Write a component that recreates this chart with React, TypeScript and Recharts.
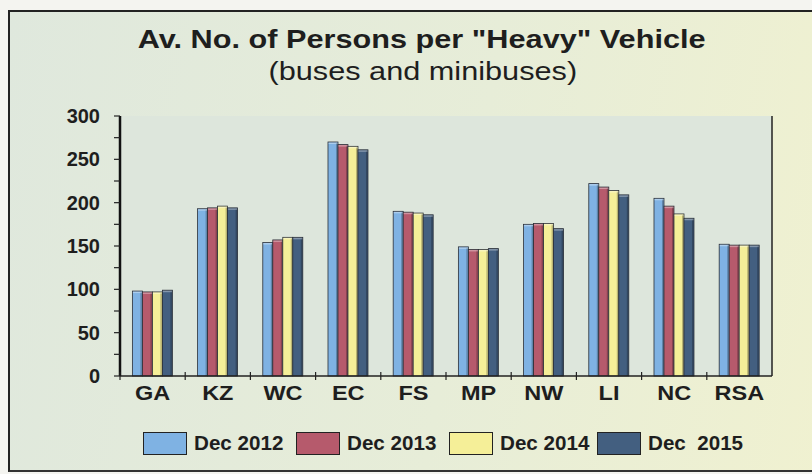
import React from "react";
import { BarChart, Bar, XAxis, YAxis, CartesianGrid } from "recharts";

// ─── Data ─────────────────────────────────────────────────────────────────────

const provinces = ["GA", "KZ", "WC", "EC", "FS", "MP", "NW", "LI", "NC", "RSA"];
const dec2012 = [98, 193, 154, 270, 190, 149, 175, 222, 205, 152];
const dec2013 = [97, 194, 157, 267, 189, 146, 176, 218, 196, 151];
const dec2014 = [97, 196, 160, 265, 188, 146, 176, 214, 187, 151];
const dec2015 = [99, 194, 160, 261, 186, 147, 170, 209, 182, 151];
const yTicks = [0, 25, 50, 75, 100, 125, 150, 175, 200, 225, 250, 275, 300];
const gridValues = [50, 100, 150, 200, 250, 300];

const seriesKeys = ["Dec 2012", "Dec 2013", "Dec 2014", "Dec  2015"];
const seriesColors = ["#7fb2e3", "#b65a6c", "#f5ef98", "#435f80"];
const legendLefts = [143, 296, 449, 597];

const chartData = provinces.map((p, i) => ({
  name: p,
  s0: dec2012[i],
  s1: dec2013[i],
  s2: dec2014[i],
  s3: dec2015[i],
}));

const FONT = '"Liberation Sans", Arial, sans-serif';

// ─── Bar shape with a little bevel ────────────────────────────────────────────

function BevelBar(props: any) {
  const { x, y, width, height, fill } = props;
  if (!height || height <= 0) return null;
  return (
    <g>
      <rect x={x} y={y} width={width} height={height} fill={fill} stroke="#2a2f38" strokeWidth={0.8} />
      <rect x={x + width - 2} y={y + 1} width={1.5} height={height - 1} fill="#000" opacity={0.25} />
      <rect x={x + 0.5} y={y + 0.5} width={width - 1} height={1.5} fill="#fff" opacity={0.35} />
    </g>
  );
}

// ─── X tick with boundary marks ───────────────────────────────────────────────

function CategoryTick(props: any) {
  const { x, y, payload } = props;
  const half = payload?.offset ?? 32.6;
  return (
    <g>
      <line x1={x - half} x2={x - half} y1={y - 4} y2={y + 4} stroke="#222" strokeWidth={1.2} />
      <text
        transform={`translate(${x},${y + 24}) scale(1.12,1)`}
        textAnchor="middle"
        fontFamily={FONT}
        fontWeight="bold"
        fontSize={21}
        fill="#1e1e1e"
      >
        {payload.value}
      </text>
    </g>
  );
}

export default function App() {
  return (
    <div
      style={{
        position: "fixed",
        left: 0,
        top: 0,
        width: 812,
        height: 474,
        background: "#f4f4f0",
        overflow: "hidden",
        fontFamily: FONT,
      }}
    >
      {/* Frame */}
      <div
        style={{
          position: "absolute",
          left: 8,
          top: 10,
          width: 820,
          height: 458,
          borderLeft: "2px solid #222",
          borderTop: "2px solid #222",
          borderBottom: "2px solid #333",
          background: "linear-gradient(100deg, #dfe8dd 0%, #e7edd8 55%, #f0f1d0 100%)",
        }}
      />

      {/* Title */}
      <div
        style={{
          position: "absolute",
          left: 0,
          width: 844,
          top: 24,
          textAlign: "center",
          fontSize: 26,
          fontWeight: "bold",
          color: "#1e1e1e",
          lineHeight: "30px",
        }}
      >
        <span style={{ display: "inline-block", transform: "scaleX(1.18)" }}>
          Av. No. of Persons per "Heavy" Vehicle
        </span>
      </div>
      <div
        style={{
          position: "absolute",
          left: 0,
          width: 846,
          top: 56,
          textAlign: "center",
          fontSize: 26,
          color: "#1e1e1e",
          lineHeight: "30px",
        }}
      >
        <span style={{ display: "inline-block", transform: "scaleX(1.18)" }}>
          (buses and minibuses)
        </span>
      </div>

      {/* Chart */}
      <div style={{ position: "absolute", left: 0, top: 0 }}>
        <BarChart
          width={812}
          height={474}
          data={chartData}
          margin={{ top: 116, right: 39, left: 60, bottom: 68 }}
          barCategoryGap="19%"
          barGap={0}
        >
          <CartesianGrid
            horizontal
            vertical={false}
            horizontalValues={gridValues}
            stroke="#4a4a4a"
            strokeWidth={1}
            fill="#dde6dc"
          />
          <XAxis
            dataKey="name"
            height={30}
            axisLine={{ stroke: "#222", strokeWidth: 1.5 }}
            tickLine={false}
            tickSize={0}
            tickMargin={0}
            interval={0}
            tick={<CategoryTick />}
          />
          <YAxis
            yAxisId="l"
            width={60}
            domain={[0, 300]}
            ticks={yTicks}
            interval={0}
            axisLine={{ stroke: "#111", strokeWidth: 2.5 }}
            tickLine={{ stroke: "#222", strokeWidth: 1.2 }}
            tickSize={6}
            tickMargin={14}
            tickFormatter={(v: number) => (v % 50 === 0 ? String(v) : "")}
            tick={{ fontFamily: FONT, fontWeight: "bold", fontSize: 20, fill: "#1e1e1e" }}
          />
          <YAxis
            yAxisId="r"
            orientation="right"
            width={1}
            domain={[0, 300]}
            ticks={yTicks}
            axisLine={{ stroke: "#222", strokeWidth: 1.5 }}
            tickLine={false}
            tick={false}
          />
          {["s0", "s1", "s2", "s3"].map((k, i) => (
            <Bar
              key={k}
              yAxisId="l"
              dataKey={k}
              name={seriesKeys[i]}
              fill={seriesColors[i]}
              shape={<BevelBar />}
              isAnimationActive={false}
            />
          ))}
        </BarChart>
      </div>

      {/* Legend */}
      {seriesKeys.map((label, i) => (
        <div
          key={label}
          style={{
            position: "absolute",
            left: legendLefts[i],
            top: 432,
            display: "flex",
            alignItems: "center",
          }}
        >
          <div
            style={{
              width: 42,
              height: 21,
              background: seriesColors[i],
              border: "1.5px solid #222",
              marginRight: 7,
            }}
          />
          <span
            style={{
              fontSize: 20,
              fontWeight: "bold",
              color: "#1e1e1e",
              whiteSpace: "pre",
              display: "inline-block",
              transform: "scaleX(1.03)",
              transformOrigin: "left center",
            }}
          >
            {label}
          </span>
        </div>
      ))}
    </div>
  );
}
